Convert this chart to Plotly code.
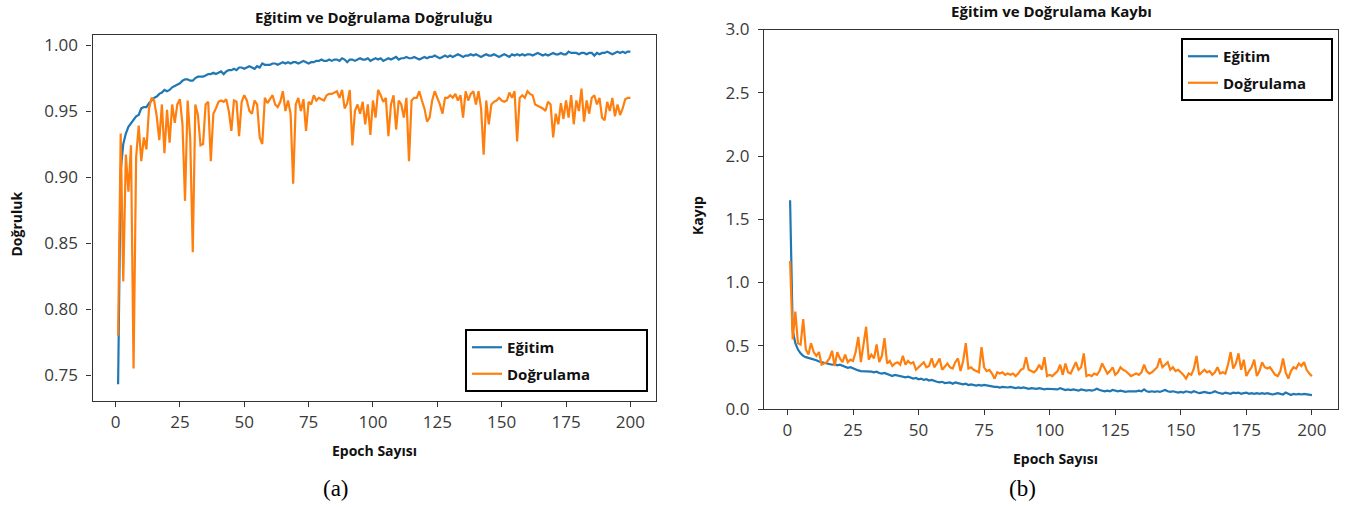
import plotly.graph_objects as go

epochs = list(range(1, 201))

train_acc = [
0.743,0.905,0.925,0.933,0.938,0.941,0.944,0.946,0.947,0.952,
0.953,0.953,0.956,0.958,0.960,0.961,0.963,0.964,0.966,0.965,
0.966,0.968,0.969,0.970,0.971,0.973,0.974,0.974,0.973,0.973,
0.975,0.976,0.976,0.976,0.977,0.978,0.978,0.979,0.978,0.979,
0.980,0.978,0.980,0.981,0.981,0.982,0.981,0.983,0.983,0.982,
0.983,0.984,0.983,0.982,0.984,0.983,0.986,0.985,0.985,0.985,
0.986,0.986,0.985,0.986,0.987,0.986,0.987,0.986,0.987,0.987,
0.986,0.987,0.988,0.987,0.986,0.987,0.987,0.988,0.988,0.989,
0.988,0.988,0.989,0.988,0.989,0.989,0.988,0.990,0.989,0.987,
0.989,0.989,0.988,0.989,0.990,0.989,0.989,0.990,0.988,0.989,
0.990,0.989,0.990,0.988,0.989,0.990,0.989,0.990,0.991,0.989,
0.990,0.990,0.991,0.990,0.990,0.991,0.990,0.989,0.990,0.991,
0.990,0.991,0.991,0.992,0.991,0.990,0.991,0.992,0.991,0.992,
0.991,0.992,0.993,0.992,0.991,0.992,0.992,0.993,0.992,0.993,
0.992,0.991,0.992,0.993,0.992,0.992,0.993,0.992,0.991,0.992,
0.993,0.992,0.991,0.993,0.992,0.993,0.992,0.993,0.992,0.993,
0.993,0.992,0.993,0.994,0.993,0.992,0.993,0.992,0.993,0.994,
0.993,0.993,0.994,0.993,0.993,0.995,0.994,0.994,0.994,0.993,
0.994,0.994,0.993,0.994,0.994,0.992,0.994,0.993,0.994,0.994,
0.995,0.994,0.993,0.994,0.995,0.994,0.995,0.994,0.995,0.995]

val_acc = [
0.780,0.933,0.821,0.917,0.889,0.924,0.755,0.915,0.939,0.912,
0.930,0.921,0.952,0.960,0.958,0.946,0.928,0.955,0.918,0.951,
0.926,0.955,0.941,0.955,0.959,0.940,0.882,0.958,0.930,0.843,
0.955,0.947,0.924,0.925,0.955,0.957,0.912,0.948,0.952,0.957,
0.958,0.957,0.959,0.950,0.935,0.958,0.957,0.931,0.957,0.962,
0.958,0.950,0.948,0.958,0.955,0.930,0.925,0.960,0.956,0.959,
0.962,0.955,0.953,0.957,0.965,0.950,0.958,0.948,0.895,0.955,
0.960,0.950,0.959,0.935,0.957,0.955,0.962,0.958,0.960,0.959,
0.958,0.962,0.963,0.963,0.964,0.965,0.960,0.966,0.952,0.956,
0.966,0.924,0.950,0.955,0.948,0.957,0.940,0.955,0.932,0.958,
0.945,0.966,0.962,0.957,0.960,0.931,0.955,0.962,0.936,0.958,
0.955,0.945,0.960,0.912,0.958,0.960,0.960,0.965,0.958,0.952,
0.942,0.945,0.958,0.965,0.960,0.955,0.948,0.960,0.960,0.962,
0.960,0.963,0.958,0.962,0.945,0.965,0.958,0.963,0.965,0.955,
0.965,0.952,0.917,0.958,0.940,0.955,0.957,0.958,0.960,0.958,
0.957,0.958,0.964,0.960,0.965,0.927,0.960,0.962,0.960,0.965,
0.963,0.962,0.955,0.954,0.953,0.952,0.950,0.957,0.955,0.930,
0.948,0.940,0.956,0.944,0.958,0.945,0.962,0.940,0.958,0.950,
0.967,0.942,0.958,0.948,0.960,0.962,0.955,0.960,0.945,0.943,
0.957,0.950,0.960,0.946,0.955,0.947,0.952,0.959,0.960,0.960]

train_loss = [
1.65,0.62,0.52,0.47,0.44,0.42,0.41,0.405,0.395,0.39,
0.385,0.375,0.37,0.365,0.36,0.355,0.35,0.355,0.345,0.35,
0.34,0.33,0.325,0.33,0.32,0.31,0.305,0.30,0.30,0.295,
0.30,0.295,0.29,0.295,0.285,0.28,0.285,0.275,0.27,0.26,
0.27,0.265,0.26,0.255,0.25,0.255,0.245,0.24,0.245,0.235,
0.24,0.23,0.235,0.225,0.23,0.22,0.215,0.21,0.215,0.205,
0.21,0.21,0.20,0.21,0.205,0.20,0.195,0.20,0.19,0.195,
0.19,0.185,0.19,0.185,0.19,0.185,0.18,0.18,0.175,0.175,
0.17,0.175,0.17,0.17,0.175,0.17,0.165,0.17,0.165,0.17,
0.165,0.16,0.165,0.16,0.16,0.165,0.16,0.155,0.16,0.16,
0.155,0.16,0.155,0.165,0.155,0.15,0.155,0.15,0.155,0.15,
0.145,0.155,0.15,0.145,0.15,0.145,0.15,0.16,0.15,0.145,
0.14,0.145,0.14,0.15,0.145,0.14,0.145,0.14,0.135,0.14,
0.14,0.135,0.14,0.145,0.14,0.155,0.14,0.135,0.14,0.135,
0.14,0.135,0.14,0.15,0.14,0.135,0.14,0.135,0.13,0.135,
0.13,0.14,0.135,0.13,0.14,0.13,0.125,0.13,0.135,0.13,
0.125,0.13,0.14,0.13,0.125,0.12,0.13,0.125,0.12,0.13,
0.125,0.13,0.12,0.125,0.13,0.12,0.125,0.12,0.125,0.12,
0.125,0.12,0.125,0.12,0.115,0.12,0.125,0.12,0.115,0.13,
0.12,0.11,0.12,0.115,0.12,0.115,0.12,0.115,0.115,0.11]

val_loss = [
1.17,0.55,0.77,0.52,0.51,0.71,0.47,0.43,0.52,0.45,
0.42,0.45,0.35,0.36,0.37,0.40,0.46,0.34,0.45,0.40,
0.37,0.43,0.37,0.39,0.38,0.45,0.57,0.37,0.50,0.65,
0.39,0.43,0.40,0.51,0.37,0.42,0.56,0.36,0.38,0.34,
0.36,0.37,0.35,0.42,0.35,0.38,0.36,0.37,0.31,0.33,
0.35,0.37,0.33,0.34,0.40,0.33,0.36,0.40,0.31,0.34,
0.36,0.33,0.32,0.37,0.40,0.30,0.38,0.52,0.32,0.33,
0.31,0.30,0.29,0.49,0.33,0.30,0.31,0.28,0.24,0.29,
0.28,0.29,0.27,0.28,0.27,0.28,0.26,0.28,0.31,0.32,
0.41,0.31,0.30,0.29,0.31,0.35,0.31,0.41,0.26,0.27,
0.26,0.28,0.30,0.35,0.27,0.36,0.29,0.28,0.33,0.37,
0.31,0.33,0.44,0.26,0.27,0.26,0.28,0.27,0.30,0.36,
0.32,0.28,0.30,0.33,0.27,0.29,0.33,0.31,0.30,0.28,
0.26,0.27,0.28,0.27,0.29,0.35,0.30,0.28,0.29,0.31,
0.33,0.40,0.33,0.35,0.37,0.31,0.33,0.30,0.31,0.29,
0.27,0.24,0.28,0.27,0.32,0.42,0.27,0.29,0.31,0.29,
0.30,0.27,0.29,0.33,0.28,0.29,0.28,0.35,0.45,0.32,
0.36,0.44,0.31,0.39,0.26,0.30,0.33,0.39,0.26,0.30,
0.37,0.33,0.32,0.33,0.30,0.27,0.26,0.30,0.40,0.29,
0.24,0.30,0.33,0.32,0.36,0.34,0.37,0.31,0.28,0.26]

x_ticks = [0, 25, 50, 75, 100, 125, 150, 175, 200]
acc_ticks = [0.75, 0.80, 0.85, 0.90, 0.95, 1.00]
loss_ticks = [0.0, 0.5, 1.0, 1.5, 2.0, 2.5, 3.0]

BLUE = "#1f77b4"
ORANGE = "#ff7f0e"
W, H = 1351, 507
FONT = "Open Sans"
NB = "\u00a0"

fig = go.Figure()
fig.add_trace(go.Scatter(x=epochs, y=train_acc, mode="lines", name="<b>Eğitim</b>",
                         line=dict(color=BLUE, width=2.2), xaxis="x", yaxis="y",
                         legend="legend", legendgroup="a1"))
fig.add_trace(go.Scatter(x=epochs, y=val_acc, mode="lines", name="<b>Doğrulama</b>" + NB * 13,
                         line=dict(color=ORANGE, width=2.2), xaxis="x", yaxis="y",
                         legend="legend", legendgroup="a2"))
fig.add_trace(go.Scatter(x=epochs, y=train_loss, mode="lines", name="<b>Eğitim</b>",
                         line=dict(color=BLUE, width=2.2), xaxis="x2", yaxis="y2",
                         legend="legend2", legendgroup="b1"))
fig.add_trace(go.Scatter(x=epochs, y=val_loss, mode="lines", name="<b>Doğrulama</b>" + NB * 5,
                         line=dict(color=ORANGE, width=2.2), xaxis="x2", yaxis="y2",
                         legend="legend2", legendgroup="b2"))

axis_common = dict(showline=True, mirror=True, linecolor="#333333", linewidth=1.3,
                   ticks="outside", ticklen=5, tickcolor="#333333", tickwidth=1.2,
                   showgrid=False, zeroline=False, automargin=False,
                   tickfont=dict(family=FONT, size=17, color="#3a3a3a"))

fig.update_layout(
    width=W, height=H,
    margin=dict(l=0, r=0, t=0, b=0, autoexpand=False),
    paper_bgcolor="white", plot_bgcolor="white",
    xaxis=dict(domain=[92.5 / W, 656 / W], range=[-8.95, 209.95], tickvals=x_ticks,
               anchor="y", ticklabelstandoff=0, **axis_common),
    yaxis=dict(domain=[1 - 401 / H, 1 - 35 / H], range=[0.7304, 1.0076], tickvals=acc_ticks,
               tickformat=".2f", anchor="x", ticklabelstandoff=5, **axis_common),
    xaxis2=dict(domain=[764 / W, 1338 / W], range=[-8.95, 209.95], tickvals=x_ticks,
                anchor="y2", ticklabelstandoff=0, **axis_common),
    yaxis2=dict(domain=[1 - 409 / H, 1 - 29.5 / H], range=[0, 3.0], tickvals=loss_ticks,
                tickformat=".1f", anchor="x2", ticklabelstandoff=5, **axis_common),
    legend=dict(x=648 / W, xanchor="right", y=1 - 392 / H, yanchor="bottom",
                bordercolor="black", borderwidth=2, bgcolor="white",
                font=dict(family=FONT, size=15, color="#111111"), tracegroupgap=4),
    legend2=dict(x=1333 / W, xanchor="right", y=1 - 38 / H, yanchor="top",
                 bordercolor="black", borderwidth=2, bgcolor="white",
                 font=dict(family=FONT, size=15, color="#111111"), tracegroupgap=4),
    showlegend=True,
)

def ann(text, x, y, size=14, bold=True, angle=0, family=FONT, color="#111111"):
    fig.add_annotation(text=f"<b>{text}</b>" if bold else text,
                       x=x / W, y=1 - y / H, xref="paper", yref="paper",
                       showarrow=False, xanchor="center", yanchor="middle",
                       textangle=angle, font=dict(family=family, size=size, color=color))

ann("Eğitim ve Doğrulama Doğruluğu", 374, 16.5, size=15)
ann("Eğitim ve Doğrulama Kaybı", 1051, 11, size=15)
ann("Epoch Sayısı", 374.5, 450, size=14)
ann("Epoch Sayısı", 1055, 458, size=14)
ann("Doğruluk", 15.5, 224, size=14, angle=-90)
ann("Kayıp", 698, 216, size=14, angle=-90)
ann("(a)", 336, 488, size=23, bold=False, family="Liberation Serif", color="#000000")
ann("(b)", 1022, 488, size=23, bold=False, family="Liberation Serif", color="#000000")

fig.write_html("out.html", config={"displayModeBar": False},
               post_script="document.body.style.margin='0';")
